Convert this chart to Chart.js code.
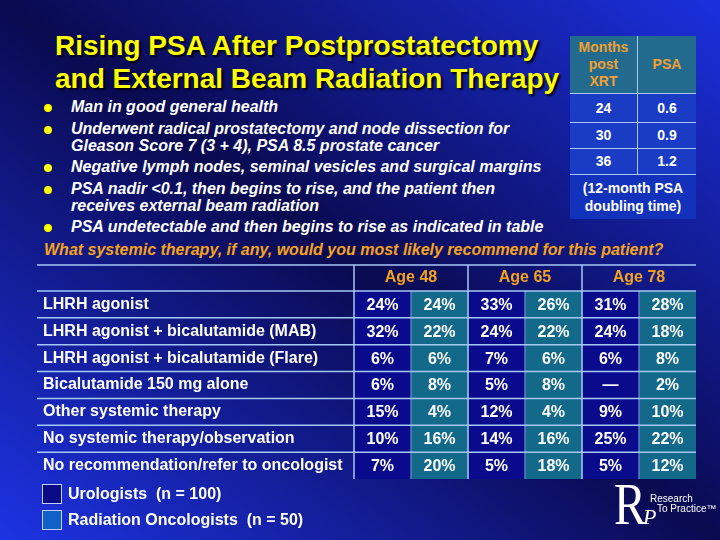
<!DOCTYPE html>
<html>
<head>
<meta charset="utf-8">
<script src="https://cdn.jsdelivr.net/npm/chart.js@4.4.1/dist/chart.umd.min.js"></script>
<style>
  body {
    margin: 0; width: 720px; height: 540px; overflow: hidden; position: relative;
    background: linear-gradient(to top right, #1d33e4 0%, #0a0a50 50%, #1b30de 100%);
    font-family: "Liberation Sans", Arial, sans-serif; color: #fff;
  }
  #survey { position: absolute; left: 0; top: 0; }
  .title {
    position: absolute; left: 55px; top: 29px; margin: 0;
    font: bold 28px/33px "Liberation Sans", Arial, sans-serif;
    color: #ffff00; text-shadow: 2px 2px 2px #000010;
  }
  .bullets {
    position: absolute; left: 71px; top: 98px; margin: 0; padding: 0; list-style: none;
    font: italic bold 16px/17px "Liberation Sans", Arial, sans-serif;
  }
  .bullets li { position: relative; margin-bottom: 4.5px; white-space: nowrap; }
  .bullets li::before {
    content: ''; position: absolute; left: -27px; top: 6px;
    width: 8px; height: 8px; border-radius: 50%; background: #ffff00;
  }
  .question {
    position: absolute; left: 44px; top: 241px; white-space: nowrap;
    font: italic bold 16px/17px "Liberation Sans", Arial, sans-serif; color: #f5a220;
  }
  #psa {
    position: absolute; left: 570px; top: 36px; width: 126px;
    border-collapse: collapse; font: bold 14px/17px "Liberation Sans", Arial, sans-serif;
    text-align: center;
  }
  #psa td, #psa th { padding: 0; }
  #psa th { height: 57px; color: #f0a030; background: #236b8e; }
  #psa .row td { background: #1a3cc4; border-bottom: 1.5px solid #a8c8f0; }
  #psa th:first-child, #psa .row td:first-child { width: 67px; border-right: 1.5px solid #a8c8f0; }
  #psa th { border-bottom: 1.5px solid #a8c8f0; }
  #psa .note td { background: #1232bc; height: 44px; line-height: 18px; }
  .legend { position: absolute; left: 42px; font: bold 16px/19px "Liberation Sans", Arial, sans-serif; white-space: pre; }
  .legend span {
    display: inline-block; width: 18px; height: 18px; border: 1px solid #c0d0f0;
    vertical-align: top; margin-right: 6px;
  }
  .logo { position: absolute; left: 614px; top: 474px; width: 106px; height: 60px; }
  .logo .r { position: absolute; left: 0; top: 0; font: 60px/60px "Liberation Serif", serif; transform: scaleX(0.8); transform-origin: left; }
  .logo .p { position: absolute; left: 29px; top: 32px; font: italic 22px/22px "Liberation Serif", serif; }
  .logo .t1 { position: absolute; left: 36px; top: 20px; font: 10px/10px "Liberation Sans", Arial, sans-serif; }
  .logo .t2 { position: absolute; left: 43px; top: 30px; font: 10px/10px "Liberation Sans", Arial, sans-serif; }
</style>
</head>
<body>
<div class="title">Rising PSA After Postprostatectomy<br>and External Beam Radiation Therapy</div>
<ul class="bullets">
  <li>Man in good general health</li>
  <li>Underwent radical prostatectomy and node dissection for<br>Gleason Score 7 (3 + 4), PSA 8.5 prostate cancer</li>
  <li>Negative lymph nodes, seminal vesicles and surgical margins</li>
  <li>PSA nadir &lt;0.1, then begins to rise, and the patient then<br>receives external beam radiation</li>
  <li>PSA undetectable and then begins to rise as indicated in table</li>
</ul>
<table id="psa"></table>
<div class="question">What systemic therapy, if any, would you most likely recommend for this patient?</div>
<canvas id="survey" width="720" height="540"></canvas>
<div class="legend" style="top:484px"><span style="background:#0a0a85"></span>Urologists  (n = 100)</div>
<div class="legend" style="top:510px"><span style="background:#1060c8"></span>Radiation Oncologists  (n = 50)</div>
<div class="logo">
  <div class="r">R</div><div class="p">P</div>
  <div class="t1">Research</div><div class="t2">To Practice&trade;</div>
</div>
<script>
// PSA history table
const monthsPostXrt = [24, 30, 36];
const psaLevels = [0.6, 0.9, 1.2];

// survey table
const therapies = [
    'LHRH agonist',
    'LHRH agonist + bicalutamide (MAB)',
    'LHRH agonist + bicalutamide (Flare)',
    'Bicalutamide 150 mg alone',
    'Other systemic therapy',
    'No systemic therapy/observation',
    'No recommendation/refer to oncologist'
];
const ageGroups = ['Age 48', 'Age 65', 'Age 78'];
// percent of respondents, null = no responses
const urologists48 = [24, 32, 6, 6, 15, 10, 7];
const radOnc48 = [24, 22, 6, 8, 4, 16, 20];
const urologists65 = [33, 24, 7, 5, 12, 14, 5];
const radOnc65 = [26, 22, 6, 8, 4, 16, 18];
const urologists78 = [31, 24, 6, null, 9, 25, 5];
const radOnc78 = [28, 18, 8, 2, 10, 22, 12];

const UROLOGIST_FILL = '#0a0a8c';
const RADONC_FILL = '#13698a';
const LINE_COLOR = '#a4c8f4';
const INNER_LINE = 'rgba(164, 200, 244, 0.55)';
const ORANGE = '#f5a220';

let psaHtml = '<tr><th>Months<br>post<br>XRT</th><th>PSA</th></tr>';
monthsPostXrt.forEach((m, i) => {
    psaHtml += '<tr class="row" style="height:' + (i === 0 ? 29 : 26) + 'px"><td>' + m + '</td><td>' + psaLevels[i].toFixed(1) + '</td></tr>';
});
psaHtml += '<tr class="note"><td colspan="2">(12-month PSA<br>doubling time)</td></tr>';
document.getElementById('psa').innerHTML = psaHtml;

Chart.defaults.font.family = '"Liberation Sans", Arial, sans-serif';

const columnValues = [urologists48, radOnc48, urologists65, radOnc65, urologists78, radOnc78];

const cellText = {
    id: 'cellText',
    afterDatasetsDraw(chart) {
        const ctx = chart.ctx;
        ctx.save();
        ctx.font = 'bold 16px "Liberation Sans", Arial, sans-serif';
        ctx.fillStyle = '#fff';
        ctx.textAlign = 'center';
        ctx.textBaseline = 'middle';
        chart.data.datasets.forEach((ds, i) => {
            chart.getDatasetMeta(i).data.forEach((bar, j) => {
                const v = ds.values[j];
                const p = bar.getCenterPoint();
                ctx.fillText(v === null ? '\u2014' : v + '%', p.x, p.y + 1);
            });
        });
        ctx.restore();
    }
};

const tableLines = {
    id: 'tableLines',
    afterDraw(chart) {
        const { ctx, chartArea: a, scales: { x, y, x2 } } = chart;
        const left = y.left - 6;
        const band = (a.bottom - a.top) / therapies.length;
        const line = (x1, y1, xe, ye) => {
            ctx.beginPath(); ctx.moveTo(x1, y1); ctx.lineTo(xe, ye); ctx.stroke();
        };
        ctx.save();
        ctx.lineWidth = 1.5;
        // thin lines between the two specialties of an age group
        ctx.strokeStyle = INNER_LINE;
        for (let c = 1; c < columnValues.length; c += 2) {
            const px = x.getPixelForValue(c);
            line(px, a.top, px, a.bottom);
        }
        ctx.strokeStyle = LINE_COLOR;
        line(left, x2.top, a.right, x2.top);
        for (let i = 0; i < therapies.length; i++) {
            line(left, a.top + i * band, a.right, a.top + i * band);
        }
        ageGroups.forEach((g, i) => {
            const px = x.getPixelForValue(i * 2);
            line(px, x2.top, px, a.bottom);
        });
        ctx.restore();
    }
};

new Chart(document.getElementById('survey'), {
    type: 'bar',
    data: {
        labels: therapies,
        datasets: columnValues.map((values, col) => ({
            label: ageGroups[Math.floor(col / 2)] + (col % 2 ? ' radiation oncologists' : ' urologists'),
            data: values.map(() => [col, col + 1]),
            values: values,
            backgroundColor: col % 2 ? RADONC_FILL : UROLOGIST_FILL,
            borderWidth: 0,
            grouped: false,
            barPercentage: 1,
            categoryPercentage: 1
        }))
    },
    options: {
        indexAxis: 'y',
        responsive: false,
        animation: false,
        devicePixelRatio: 1,
        layout: { padding: { left: 43, top: 265, right: 24, bottom: 61 } },
        plugins: { legend: { display: false }, tooltip: { enabled: false } },
        scales: {
            x: { type: 'linear', min: 0, max: 6, display: false },
            x2: {
                type: 'linear', position: 'top', min: 0, max: 6,
                afterBuildTicks: (s) => { s.ticks = ageGroups.map((g, i) => ({ value: i * 2 + 1 })); },
                afterFit: (s) => { s.height = 26; },
                ticks: {
                    callback: (v) => ageGroups[(v - 1) / 2],
                    color: ORANGE, font: { size: 16, weight: 'bold' },
                    padding: 4, autoSkip: false, maxRotation: 0
                },
                grid: { display: false, drawTicks: false },
                border: { display: false }
            },
            y: {
                afterFit: (s) => { s.width = 311; },
                ticks: { color: '#fff', font: { size: 16, weight: 'bold' }, crossAlign: 'far', autoSkip: false },
                grid: { display: false },
                border: { display: false }
            }
        }
    },
    plugins: [cellText, tableLines]
});
</script>
</body>
</html>
